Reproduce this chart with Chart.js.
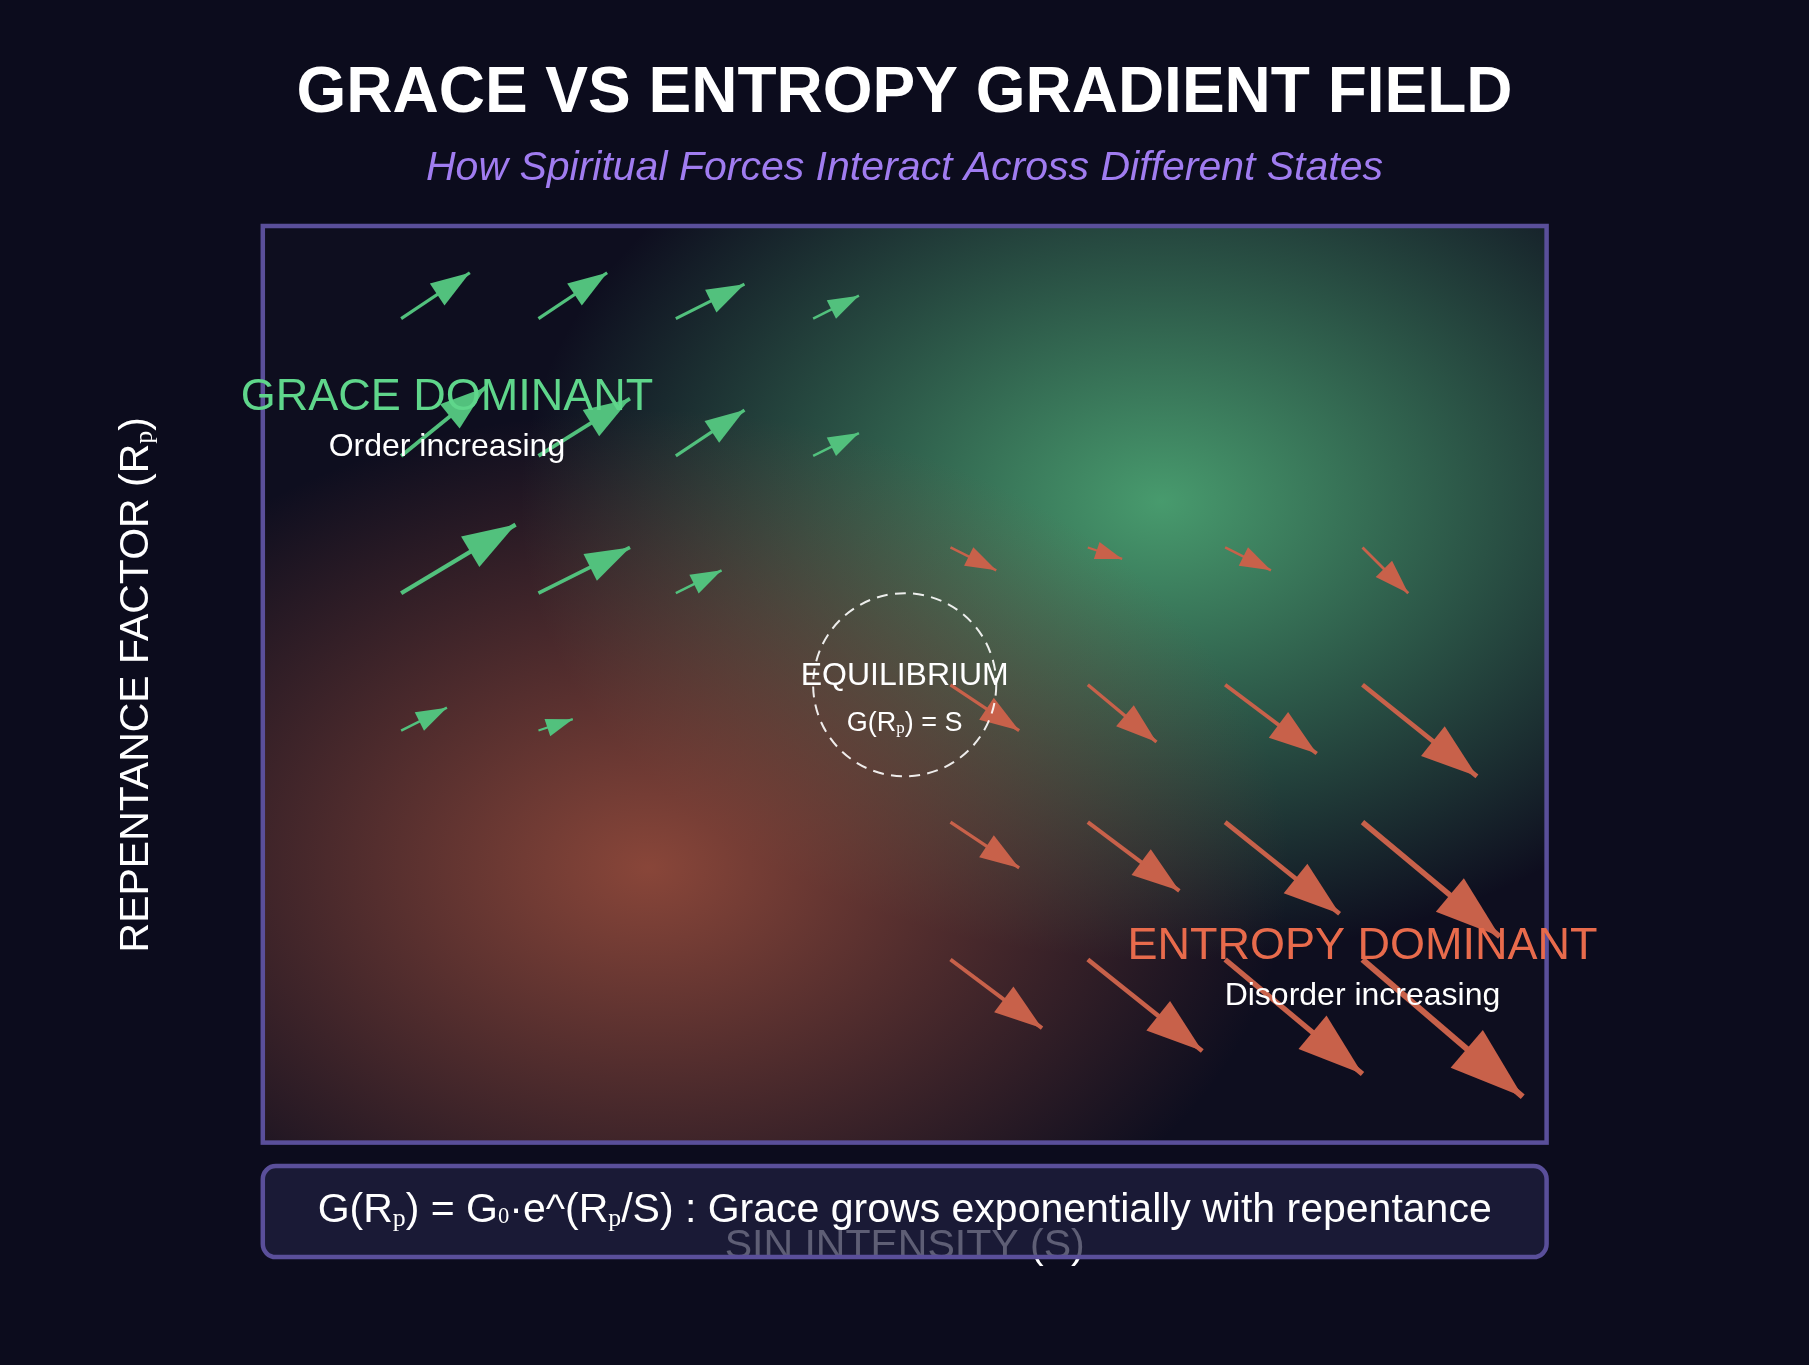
<!DOCTYPE html>
<html>
<head>
<meta charset="utf-8">
<script src="https://cdn.jsdelivr.net/npm/chart.js@4.4.1/dist/chart.umd.min.js"></script>
<style>
  html, body { margin: 0; padding: 0; background: #0c0c1d; }
  #wrap { width: 1809px; height: 1365px; position: relative; }
  canvas { display: block; }
</style>
</head>
<body>
<div id="wrap"><canvas id="chart" width="1809" height="1365"></canvas></div>
<script>
// ---- Data (field grid units: S = sin intensity, Rp = repentance factor) ----
const graceS   = [6, 12, 18, 24,   6, 12, 18, 24,   6, 12, 18,   6, 12];
const graceRp  = [36, 36, 36, 36,  30, 30, 30, 30,  24, 24, 24,  18, 18];
const graceDS  = [3, 3, 3, 2,      3.7, 4, 3, 2,    5, 4, 2,     2, 1.5];
const graceDRp = [2, 2, 1.5, 1,    3, 2.5, 2, 1,    3, 2, 1,     1, 0.5];

const entropyS   = [30, 36, 42, 48,  30, 36, 42, 48,  30, 36, 42, 48,  30, 36, 42, 48];
const entropyRp  = [26, 26, 26, 26,  20, 20, 20, 20,  14, 14, 14, 14,  8, 8, 8, 8];
const entropyDS  = [2, 1.5, 2, 2,    3, 3, 4, 5,      3, 4, 5, 6,      4, 5, 6, 7];
const entropyDRp = [-1, -0.5, -1, -2, -2, -2.5, -3, -4, -2, -3, -4, -5, -3, -4, -5, -6];

const axisRangeS  = [0, 56];
const axisRangeRp = [0, 40];
const equilibrium = { S: 28, Rp: 20, r: 4 };

const titleText    = 'GRACE VS ENTROPY GRADIENT FIELD';
const subtitleText = 'How Spiritual Forces Interact Across Different States';
const xTitle = 'SIN INTENSITY (S)';
const yTitle = 'REPENTANCE FACTOR (R\u209A)';
const formulaText = 'G(R\u209A) = G\u2080\u00B7e^(R\u209A/S) : Grace grows exponentially with repentance';
const zoneLabels = [
  { text: 'GRACE DOMINANT', S: 8, Rp: 32, kind: 'graceHead' },
  { text: 'Order increasing', S: 8, Rp: 30, kind: 'sub' },
  { text: 'ENTROPY DOMINANT', S: 48, Rp: 8, kind: 'entropyHead' },
  { text: 'Disorder increasing', S: 48, Rp: 6, kind: 'sub' },
  { text: 'EQUILIBRIUM', S: 28, Rp: 20, kind: 'eq' },
  { text: 'G(R\u209A) = S', S: 28, Rp: 18, kind: 'eqSub' }
];

// ---- styles ----
const FAMILY = '"Liberation Sans", Arial, sans-serif';
const SUBFAMILY = '"Liberation Serif", "DejaVu Serif", serif';
const COL = {
  plotBase: '#0e0e1f',
  frame: '#5a4f9a',
  grace: '#52c17d',
  entropy: '#c8614a',
  graceText: '#5fd68b',
  entropyText: '#e86b4c',
  purple: '#a07cf0'
};
const SUBMAP = { '\u209A': 'p', '\u2080': '0' };

function toPoints(S, Rp, dS, dRp) {
  return S.map((s, i) => ({ x: s, y: Rp[i], dx: dS[i], dy: dRp[i] }));
}

// draws text, rendering unicode subscript chars as small lowered serif glyphs
function richText(ctx, text, x, y, size, style) {
  const parts = [];
  let buf = '';
  for (const ch of text) {
    if (SUBMAP[ch]) {
      if (buf) { parts.push({ t: buf, sub: false }); buf = ''; }
      parts.push({ t: SUBMAP[ch], sub: true, digit: /\d/.test(SUBMAP[ch]) });
    } else buf += ch;
  }
  if (buf) parts.push({ t: buf, sub: false });
  const mainFont = `${style ? style + ' ' : ''}${size}px ${FAMILY}`;
  parts.forEach(p => {
    if (p.sub) {
      p.font = `${(size * (p.digit ? 0.55 : 0.63)).toFixed(1)}px ${SUBFAMILY}`;
      p.dy = p.digit ? size * 0.02 : size * 0.1;
    } else { p.font = mainFont; p.dy = 0; }
    ctx.font = p.font;
    p.w = ctx.measureText(p.t).width;
  });
  const total = parts.reduce((s, p) => s + p.w, 0);
  let cx = x - total / 2;
  const prevAlign = ctx.textAlign;
  ctx.textAlign = 'left';
  parts.forEach(p => {
    ctx.font = p.font;
    ctx.fillText(p.t, cx, y + p.dy);
    cx += p.w;
  });
  ctx.textAlign = prevAlign;
}

function glow(ctx, a, fx, fy, rgb, alpha) {
  ctx.save();
  ctx.beginPath();
  ctx.rect(a.left, a.top, a.width, a.height);
  ctx.clip();
  ctx.translate(a.left + fx * a.width, a.top + fy * a.height);
  ctx.scale(a.width / 2, a.height / 2);
  const g = ctx.createRadialGradient(0, 0, 0, 0, 0, 1);
  g.addColorStop(0, `rgba(${rgb},${alpha})`);
  g.addColorStop(1, `rgba(${rgb},0)`);
  ctx.fillStyle = g;
  ctx.fillRect(-3, -3, 6, 6);
  ctx.restore();
}

function arrow(ctx, x0, y0, x1, y1, color) {
  const dx = x1 - x0, dy = y1 - y0, len = Math.hypot(dx, dy);
  const w = 1.4 + 0.022 * len;
  const ux = dx / len, uy = dy / len;
  const hl = 12.2 * w, hw = 4.1 * w;
  ctx.strokeStyle = color;
  ctx.fillStyle = color;
  ctx.lineWidth = w;
  ctx.lineCap = 'butt';
  ctx.beginPath();
  ctx.moveTo(x0, y0);
  ctx.lineTo(x1, y1);
  ctx.stroke();
  const bx = x1 - ux * hl, by = y1 - uy * hl;
  ctx.beginPath();
  ctx.moveTo(x1, y1);
  ctx.lineTo(bx - uy * hw, by + ux * hw);
  ctx.lineTo(bx + uy * hw, by - ux * hw);
  ctx.closePath();
  ctx.fill();
}

function roundRect(ctx, x, y, w, h, r) {
  ctx.beginPath();
  ctx.moveTo(x + r, y);
  ctx.lineTo(x + w - r, y);
  ctx.arcTo(x + w, y, x + w, y + r, r);
  ctx.lineTo(x + w, y + h - r);
  ctx.arcTo(x + w, y + h, x + w - r, y + h, r);
  ctx.lineTo(x + r, y + h);
  ctx.arcTo(x, y + h, x, y + h - r, r);
  ctx.lineTo(x, y + r);
  ctx.arcTo(x, y, x + r, y, r);
  ctx.closePath();
}

const fieldPlugin = {
  id: 'fieldPlugin',
  beforeDatasetsDraw(chart) {
    const { ctx, chartArea: a } = chart;
    ctx.save();
    ctx.fillStyle = COL.plotBase;
    ctx.fillRect(a.left, a.top, a.width, a.height);
    glow(ctx, a, 0.70, 0.30, '78,170,118', 0.9);
    glow(ctx, a, 0.30, 0.70, '150,76,60', 0.9);
    ctx.restore();
  },
  afterDatasetsDraw(chart) {
    const { ctx, chartArea: a, scales } = chart;
    const xs = scales.x, ys = scales.y;
    const W = chart.width;
    ctx.save();

    // arrows
    chart.data.datasets.forEach(ds => {
      ds.data.forEach(p => {
        arrow(ctx,
          xs.getPixelForValue(p.x), ys.getPixelForValue(p.y),
          xs.getPixelForValue(p.x + p.dx), ys.getPixelForValue(p.y + p.dy),
          ds.arrowColor);
      });
    });

    // frame
    ctx.strokeStyle = COL.frame;
    ctx.lineWidth = 4.5;
    ctx.strokeRect(a.left - 1, a.top - 1, a.width + 2, a.height + 1);

    // equilibrium circle
    const cx = xs.getPixelForValue(equilibrium.S);
    const cy = ys.getPixelForValue(equilibrium.Rp);
    const r = xs.getPixelForValue(equilibrium.S + equilibrium.r) - cx;
    ctx.setLineDash([11, 7.3]);
    ctx.strokeStyle = 'rgba(255,255,255,0.9)';
    ctx.lineWidth = 2;
    ctx.beginPath();
    ctx.arc(cx, cy, r, 0, Math.PI * 2);
    ctx.stroke();
    ctx.setLineDash([]);

    // zone labels
    ctx.textAlign = 'center';
    ctx.textBaseline = 'alphabetic';
    zoneLabels.forEach(l => {
      const px = xs.getPixelForValue(l.S), py = ys.getPixelForValue(l.Rp);
      let size = 32;
      if (l.kind === 'graceHead') { size = 45; ctx.fillStyle = COL.graceText; }
      else if (l.kind === 'entropyHead') { size = 45; ctx.fillStyle = COL.entropyText; }
      else if (l.kind === 'eqSub') { size = 27; ctx.fillStyle = '#ffffff'; }
      else { size = 32; ctx.fillStyle = '#ffffff'; }
      richText(ctx, l.text, px, py, size);
    });

    // title + subtitle
    ctx.fillStyle = '#ffffff';
    richText(ctx, titleText, W / 2, 112, 64, 'bold');
    ctx.fillStyle = COL.purple;
    richText(ctx, subtitleText, W / 2, 180, 41, 'italic');

    // axis titles
    ctx.fillStyle = '#ffffff';
    richText(ctx, xTitle, (a.left + a.right) / 2, a.bottom + 115, 41);
    ctx.save();
    ctx.translate(148, (a.top + a.bottom) / 2);
    ctx.rotate(-Math.PI / 2);
    richText(ctx, yTitle, 0, 0, 41);
    ctx.restore();

    // formula box (semi-transparent, over the x title)
    roundRect(ctx, a.left - 1, a.bottom + 23.5, a.width + 2, 91, 13);
    ctx.fillStyle = 'rgba(32,32,64,0.72)';
    ctx.fill();
    ctx.strokeStyle = COL.frame;
    ctx.lineWidth = 4.5;
    ctx.stroke();
    ctx.fillStyle = '#ffffff';
    richText(ctx, formulaText, (a.left + a.right) / 2, a.bottom + 79.5, 41);

    ctx.restore();
  }
};

new Chart(document.getElementById('chart'), {
  type: 'scatter',
  data: {
    datasets: [
      { label: 'Grace', data: toPoints(graceS, graceRp, graceDS, graceDRp), arrowColor: COL.grace, pointRadius: 0, pointHoverRadius: 0 },
      { label: 'Entropy', data: toPoints(entropyS, entropyRp, entropyDS, entropyDRp), arrowColor: COL.entropy, pointRadius: 0, pointHoverRadius: 0 }
    ]
  },
  options: {
    responsive: false,
    animation: false,
    devicePixelRatio: 1,
    layout: { padding: { left: 263.8, right: 263.4, top: 227, bottom: 222.4 } },
    scales: {
      x: { type: 'linear', min: axisRangeS[0], max: axisRangeS[1], display: false },
      y: { type: 'linear', min: axisRangeRp[0], max: axisRangeRp[1], display: false }
    },
    plugins: { legend: { display: false }, tooltip: { enabled: false }, title: { display: false } }
  },
  plugins: [fieldPlugin]
});
</script>
</body>
</html>
